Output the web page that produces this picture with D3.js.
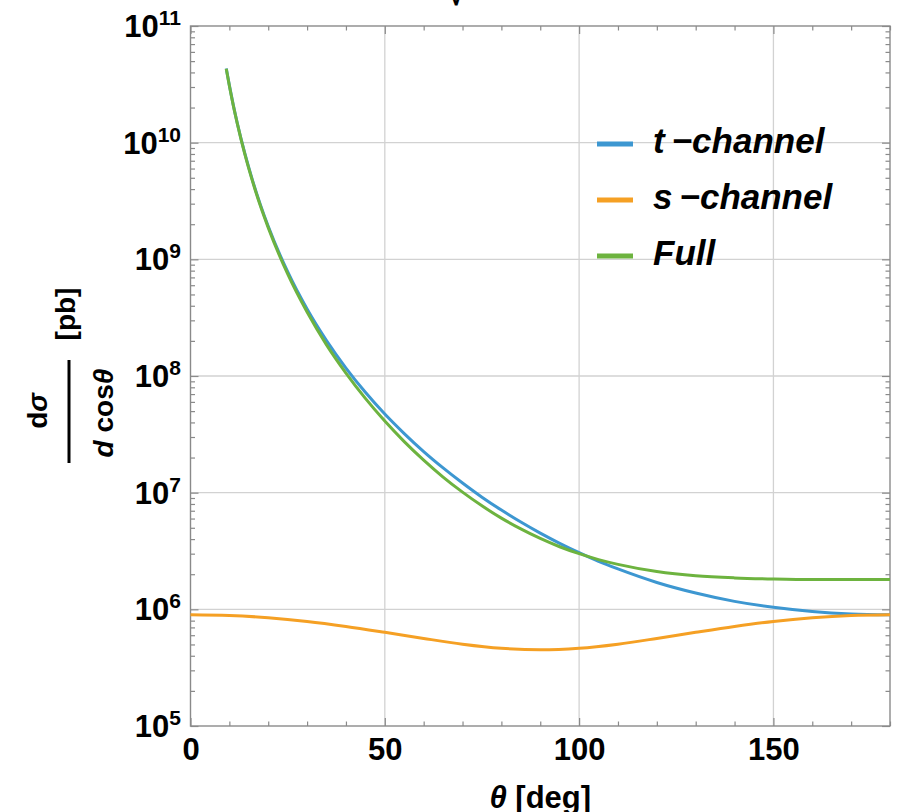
<!DOCTYPE html>
<html>
<head>
<meta charset="utf-8">
<title>Bhabha</title>
<script src="https://cdn.jsdelivr.net/npm/d3@7/dist/d3.min.js"></script>
<style>
  body { margin: 0; background: #fff; }
  text { font-family: "Liberation Sans", Arial, sans-serif; font-weight: bold; fill: #000; }
</style>
</head>
<body>
<script>
// angles (deg)
var thetaT = [9.2, 10, 11, 12, 14, 16, 18, 20, 25, 30, 35, 40, 45, 50, 55, 60, 65, 70, 75, 80, 85, 90, 95, 100, 105, 110, 120, 130, 140, 150, 160, 170, 180];
// t-channel  [pb]
var tChannel = [4.32e10, 3.10e10, 2.11e10, 1.49e10, 8.04e9, 4.71e9, 2.93e9, 1.92e9, 7.83e8, 3.75e8, 2.01e8, 1.17e8, 7.25e7, 4.72e7, 3.21e7, 2.25e7, 1.63e7, 1.21e7, 9.15e6, 7.09e6, 5.60e6, 4.50e6, 3.68e6, 3.06e6, 2.58e6, 2.22e6, 1.70e6, 1.38e6, 1.17e6, 1.04e6, 9.58e5, 9.14e5, 9.00e5];
// Full  [pb]
var full = [4.30e10, 3.07e10, 2.09e10, 1.48e10, 7.92e9, 4.62e9, 2.86e9, 1.87e9, 7.49e8, 3.53e8, 1.85e8, 1.06e8, 6.43e7, 4.11e7, 2.74e7, 1.90e7, 1.36e7, 1.01e7, 7.71e6, 6.05e6, 4.89e6, 4.05e6, 3.44e6, 3.00e6, 2.67e6, 2.43e6, 2.11e6, 1.94e6, 1.86e6, 1.82e6, 1.80e6, 1.80e6, 1.80e6];
// s-channel  [pb]
var thetaS = [0, 10, 20, 30, 40, 50, 60, 70, 80, 90, 100, 110, 120, 130, 140, 150, 160, 170, 180];
var sChannel = [9.00e5, 8.86e5, 8.47e5, 7.88e5, 7.14e5, 6.36e5, 5.63e5, 5.03e5, 4.64e5, 4.50e5, 4.64e5, 5.03e5, 5.63e5, 6.36e5, 7.14e5, 7.88e5, 8.47e5, 8.86e5, 9.00e5];

var xTicks = [0, 50, 100, 150];
var yExps = [5, 6, 7, 8, 9, 10, 11];
var legendNames = ["t\u2009\u2212channel", "s\u2009\u2212channel", "Full"];
var colors = ["#3d97d1", "#f5a024", "#6db33f"];

var width = 902, height = 812;
var svg = d3.select("body").append("svg")
    .attr("width", width)
    .attr("height", height);

var x = d3.scaleLinear().domain([0, 180]).range([190.5, 890]);
var y = d3.scaleLog().domain([1e5, 1e11]).range([726, 26]);

// minor tick values
var xMinor = d3.range(0, 181, 10).filter(function(d){ return xTicks.indexOf(d) < 0; });
var yMinor = [];
yExps.slice(0, -1).forEach(function(e){
  for (var m = 2; m <= 9; m++) yMinor.push(m * Math.pow(10, e));
});
var yMajor = yExps.map(function(e){ return Math.pow(10, e); });

// grid
svg.append("g").selectAll("line").data(xTicks.slice(1)).enter().append("line")
    .attr("x1", function(d){ return x(d); }).attr("x2", function(d){ return x(d); })
    .attr("y1", y(1e5)).attr("y2", y(1e11))
    .attr("stroke", "#d2d2d2").attr("stroke-width", 1.3);
svg.append("g").selectAll("line").data(yMajor.slice(1, -1)).enter().append("line")
    .attr("x1", x(0)).attr("x2", x(180))
    .attr("y1", function(d){ return y(d); }).attr("y2", function(d){ return y(d); })
    .attr("stroke", "#d2d2d2").attr("stroke-width", 1.3);

// axes (ticks pointing inwards)
function tickAxis(axis, pos, vals, size) {
  var g = svg.append("g").attr("transform", pos)
      .call(axis.tickValues(vals).tickSize(size).tickSizeOuter(0).tickFormat(""));
  g.select(".domain").remove();
  g.selectAll("line").attr("stroke", "#8a8a8a").attr("stroke-width", 1.2);
  return g;
}
tickAxis(d3.axisBottom(x), "translate(0," + y(1e5) + ")", xMinor, -4.5);
tickAxis(d3.axisTop(x), "translate(0," + y(1e11) + ")", xMinor, -4.5);
tickAxis(d3.axisTop(x), "translate(0," + y(1e11) + ")", xTicks, -8);
tickAxis(d3.axisLeft(y), "translate(" + x(0) + ",0)", yMinor, -4.5);
tickAxis(d3.axisLeft(y), "translate(" + x(0) + ",0)", yMajor, -8);
tickAxis(d3.axisRight(y), "translate(" + x(180) + ",0)", yMinor, -4.5);
tickAxis(d3.axisRight(y), "translate(" + x(180) + ",0)", yMajor, -8);

// bottom axis with labels
var xAxisG = svg.append("g").attr("transform", "translate(0," + y(1e5) + ")")
    .call(d3.axisBottom(x).tickValues(xTicks).tickSize(-8).tickSizeOuter(0).tickPadding(12));
xAxisG.select(".domain").remove();
xAxisG.selectAll("line").attr("stroke", "#8a8a8a").attr("stroke-width", 1.2);
xAxisG.selectAll("text").attr("font-size", 31).attr("font-family", null).attr("fill", "#000");

// y labels 10^n
var yLab = svg.append("g").selectAll("text").data(yExps).enter().append("text")
    .attr("x", 181)
    .attr("y", function(d){ return y(Math.pow(10, d)) + 11; })
    .attr("text-anchor", "end")
    .attr("font-size", 31);
yLab.append("tspan").text("10");
yLab.append("tspan").attr("dy", -12).attr("font-size", 21).text(function(d){ return d; });

// frame
svg.append("rect")
    .attr("x", x(0)).attr("y", y(1e11))
    .attr("width", x(180) - x(0)).attr("height", y(1e5) - y(1e11))
    .attr("fill", "none").attr("stroke", "#8a8a8a").attr("stroke-width", 1.4);

// curves
var line = d3.line()
    .x(function(d){ return x(d[0]); })
    .y(function(d){ return y(d[1]); })
    .curve(d3.curveMonotoneX);
var series = [d3.zip(thetaT, tChannel), d3.zip(thetaS, sChannel), d3.zip(thetaT, full)];
svg.append("g").selectAll("path").data(series).enter().append("path")
    .attr("d", line)
    .attr("fill", "none")
    .attr("stroke", function(d, i){ return colors[i]; })
    .attr("stroke-width", 3);

// legend
var leg = svg.append("g").selectAll("g").data(legendNames).enter().append("g")
    .attr("transform", function(d, i){ return "translate(597," + (144 + i * 56) + ")"; });
leg.append("line").attr("x1", 0).attr("x2", 36)
    .attr("stroke", function(d, i){ return colors[i]; }).attr("stroke-width", 5);
leg.append("text").attr("x", 56).attr("y", 9)
    .attr("font-size", 35).attr("font-style", "italic")
    .text(function(d){ return d; });

// x title
var xt = svg.append("text").attr("x", (x(0) + x(180)) / 2).attr("y", 808)
    .attr("text-anchor", "middle").attr("font-size", 31);
xt.append("tspan").attr("font-style", "italic").text("\u03b8");
xt.append("tspan").text(" [deg]");

// y title: d sigma / d cos theta [pb]
var yt = svg.append("g").attr("transform", "rotate(-90)");
var num = yt.append("text").attr("x", -411).attr("y", 47)
    .attr("text-anchor", "middle").attr("font-size", 28);
num.append("tspan").text("d");
num.append("tspan").attr("font-style", "italic").text("\u03c3");
yt.append("line").attr("x1", -463).attr("x2", -360).attr("y1", 69).attr("y2", 69)
    .attr("stroke", "#000").attr("stroke-width", 3);
var den = yt.append("text").attr("x", -413).attr("y", 113)
    .attr("text-anchor", "middle").attr("font-size", 28);
den.append("tspan").attr("font-style", "italic").text("d");
den.append("tspan").text(" cos");
den.append("tspan").attr("font-style", "italic").text("\u03b8");
yt.append("text").attr("x", -314).attr("y", 75)
    .attr("text-anchor", "middle").attr("font-size", 28).text("[pb]");

// clipped title fragment at the very top
svg.append("text").attr("x", 448).attr("y", 5).attr("font-size", 31).text("\u221a");
</script>
</body>
</html>
